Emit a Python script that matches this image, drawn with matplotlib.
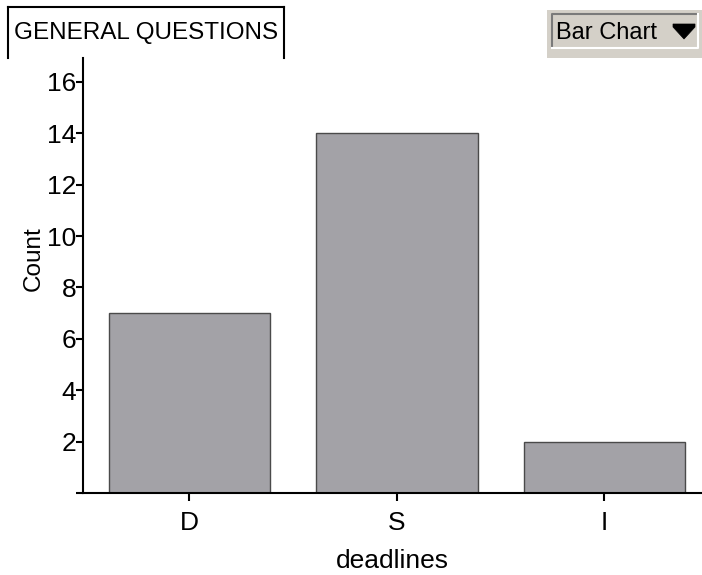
import matplotlib.pyplot as plt
from matplotlib.lines import Line2D
from matplotlib.patches import Rectangle, Polygon

categories = ['D', 'S', 'I']
counts = [7, 14, 2]
y_ticks = list(range(0, 17, 2))
y_tick_labels = [''] + [str(v) for v in y_ticks[1:]]

W, H = 702, 575
plt.rcParams['font.family'] = ['Liberation Sans', 'DejaVu Sans']


def fx(x):
    return x / W


def fy(y):
    return 1 - y / H


fig = plt.figure(figsize=(W / 100, H / 100), dpi=100)
ax = fig.add_axes([fx(83), fy(493), fx(702 - 83), (493 - 58) / H])

ax.bar(range(len(categories)), counts, width=0.78, color='#a3a2a7',
       edgecolor='#4a4a4a', linewidth=1.0)
ax.set_xlim(-0.513, 2.47)
ax.set_ylim(0, 16.93)
ax.set_xticks(range(len(categories)))
ax.set_xticklabels(categories, fontsize=19)
ax.set_yticks(y_ticks)
ax.set_yticklabels(y_tick_labels, fontsize=19)
ax.tick_params(axis='y', direction='out', length=5, width=1.5, pad=0)
ax.tick_params(axis='x', direction='out', length=6, width=1.5, pad=7)
for s in ['top', 'right']:
    ax.spines[s].set_visible(False)
for s in ['left', 'bottom']:
    ax.spines[s].set_linewidth(1.5)
ax.set_xlabel('deadlines', fontsize=19, labelpad=10)
ax.set_ylabel('Count', fontsize=17.5)
ax.yaxis.set_label_coords((45 - 83) / (702 - 83), (493 - 259) / (493 - 58))

# title box, open at the bottom
for (x0, y0, x1, y1) in [(8, 58, 8, 7), (8, 7, 284, 7), (284, 7, 284, 58)]:
    fig.add_artist(Line2D([fx(x0), fx(x1)], [fy(y0), fy(y1)], color='black', lw=1.5))
fig.text(fx(146), fy(33), 'GENERAL QUESTIONS', fontsize=17.5,
         ha='center', va='center')

# "Bar Chart" dropdown
fig.add_artist(Rectangle((fx(547), fy(58)), fx(155), 48 / H, color='#d4d0c8', lw=0))
fig.add_artist(Line2D([fx(552), fx(552), fx(698)], [fy(47), fy(14), fy(14)],
                      color='#7a7a7a', lw=1.5))
fig.add_artist(Line2D([fx(552), fx(698), fx(698)], [fy(48), fy(48), fy(14)],
                      color='white', lw=1.5))
fig.text(fx(556), fy(33), 'Bar Chart', fontsize=17, ha='left', va='center')
tri = [(673, 24), (695, 24), (695, 27), (684, 39), (673, 27)]
fig.add_artist(Polygon([(fx(a), fy(b)) for a, b in tri], closed=True,
                       facecolor='black', edgecolor='black', lw=0.5))

plt.savefig('out.png', dpi=100)
